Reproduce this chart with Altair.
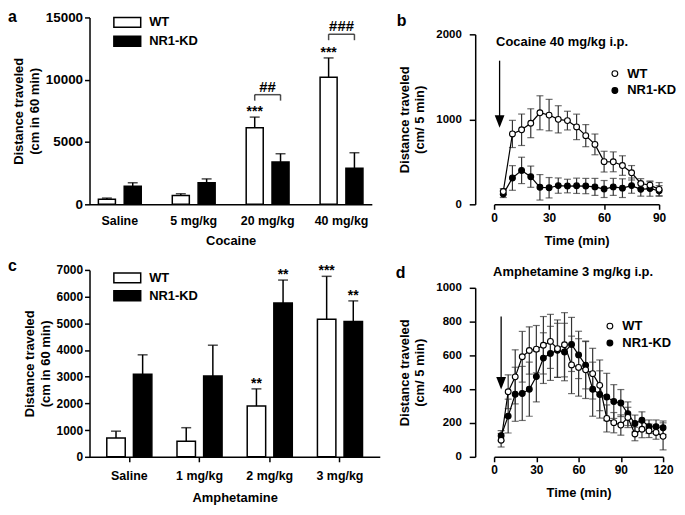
import altair as alt
import pandas as pd

FONT = "Liberation Sans"
GENOTYPES = ["WT", "NR1-KD"]
FILLS = ["white", "black"]

# ---------------- Panel a: cocaine dose response (cm in 60 min)
coc_doses = ["Saline", "5 mg/kg", "20 mg/kg", "40 mg/kg"]
coc_wt = [400, 700, 6150, 10200]
coc_wt_sem = [100, 150, 850, 1550]
coc_kd = [1450, 1730, 3400, 2900]
coc_kd_sem = [280, 310, 660, 1240]
coc_wt_sig = ["", "", "***", "***"]
coc_kd_sig = ["", "", "", ""]
coc_hash = ["", "", "##", "###"]
coc_hash_level = [None, None, 8800, 13650]

# ---------------- Panel c: amphetamine dose response (cm in 60 min)
amph_doses = ["Saline", "1 mg/kg", "2 mg/kg", "3 mg/kg"]
amph_wt = [700, 580, 1900, 5150]
amph_wt_sem = [260, 510, 645, 1610]
amph_kd = [3090, 3030, 5760, 5070]
amph_kd_sem = [730, 1150, 860, 770]
amph_wt_sig = ["", "", "**", "***"]
amph_kd_sig = ["", "", "**", "**"]

# ---------------- Panel b: cocaine 40 mg/kg time course (cm / 5 min)
coc_time = [5, 10, 15, 20, 25, 30, 35, 40, 45, 50, 55, 60, 65, 70, 75, 80, 85, 90]
coc_ts_wt = [150, 828, 877, 954, 1077, 1050, 1000, 985, 911, 808, 705, 502, 500, 456, 371, 245, 226, 176]
coc_ts_wt_sem = [35, 160, 185, 170, 200, 185, 160, 110, 150, 130, 122, 122, 117, 115, 85, 57, 40, 80]
coc_ts_kd = [120, 310, 399, 325, 200, 195, 220, 215, 218, 215, 205, 180, 205, 190, 220, 176, 185, 160]
coc_ts_kd_sem = [40, 145, 155, 125, 150, 120, 90, 80, 90, 90, 100, 100, 100, 110, 90, 80, 90, 60]
coc_arrow = [3, 1690, 975]  # time, arrow start, arrow head

# ---------------- Panel d: amphetamine 3 mg/kg time course (cm / 5 min)
amph_time = [5, 10, 15, 20, 25, 30, 35, 40, 45, 50, 55, 60, 65, 70, 75, 80, 85, 90,
             95, 100, 105, 110, 115, 120]
amph_ts_wt = [98, 385, 473, 592, 629, 637, 660, 683, 640, 663, 544, 529, 515, 492, 423, 227,
              202, 188, 233, 135, 163, 154, 144, 121]
amph_ts_wt_sem = [40, 100, 160, 150, 140, 140, 170, 160, 170, 190, 170, 170, 170, 150, 150, 80,
                  60, 60, 60, 40, 50, 40, 40, 80]
amph_ts_kd = [125, 241, 370, 375, 400, 475, 584, 612, 630, 620, 665, 603, 542, 400, 369, 354,
              327, 318, 255, 197, 216, 178, 178, 172]
amph_ts_kd_sem = [30, 100, 160, 160, 160, 150, 150, 160, 160, 170, 160, 140, 140, 160, 140, 140,
                  100, 80, 70, 50, 50, 40, 40, 40]
amph_arrow = [5, 830, 435]

ROW_H = 188
BAR_PATH = "M-1.5,-0.55H1.5V0.55H-1.5Z"
HEAD_PATH = "M-0.7,-0.9L0.7,-0.9L0,0.9Z"


def text_layer(txt, x, y, size, align="left"):
    return alt.Chart(pd.DataFrame({"t": [txt]})).mark_text(
        align=align, baseline="alphabetic", fontSize=size, fontWeight="bold",
        font=FONT, color="black"
    ).encode(x=alt.value(x), y=alt.value(y), text="t:N")


def bar_panel(doses, wt, wt_sem, kd, kd_sem, wt_sig, kd_sig, ymax, yvals, ytitle, xtitle,
              W, pI, pO, subPI, ylab_size, x_ticks, legend_xy, letter, letter_xy,
              hashes=None, hash_levels=None):
    rows = []
    for i, d in enumerate(doses):
        rows.append(dict(dose=d, genotype="WT", mean=wt[i], top=wt[i] + wt_sem[i], sig=wt_sig[i]))
        rows.append(dict(dose=d, genotype="NR1-KD", mean=kd[i], top=kd[i] + kd_sem[i], sig=kd_sig[i]))
    df = pd.DataFrame(rows)

    step = W / (len(doses) - pI + 2 * pO)
    band = step * (1 - pI)
    substep = band / (2 - subPI)

    xaxis = alt.Axis(title=xtitle, labelAngle=0, ticks=x_ticks, tickSize=5,
                     labelPadding=(10 if not x_ticks else 8), titlePadding=(8 if not x_ticks else 9),
                     labelFontSize=12.5)
    x = alt.X("dose:N", sort=doses, scale=alt.Scale(domain=doses, paddingInner=pI, paddingOuter=pO),
              axis=xaxis)
    xo = alt.XOffset("genotype:N", sort=GENOTYPES,
                     scale=alt.Scale(domain=GENOTYPES, paddingInner=subPI, paddingOuter=0))
    yaxis = alt.Axis(values=yvals, title=ytitle, format="d", tickSize=5, labelPadding=2,
                     titlePadding=4, labelFontSize=ylab_size, titleLineHeight=16)
    yscale = alt.Scale(domain=[0, ymax], nice=False)

    def Y(field):
        return alt.Y(field, scale=yscale, axis=yaxis, title=ytitle)

    base = alt.Chart(df)
    bars = base.mark_bar(stroke="black", strokeWidth=1.5).encode(
        x=x, xOffset=xo, y=Y("mean:Q"),
        fill=alt.Fill("genotype:N", sort=GENOTYPES,
                      scale=alt.Scale(domain=GENOTYPES, range=FILLS),
                      legend=alt.Legend(orient="none", legendX=legend_xy[0], legendY=legend_xy[1],
                                        title=None, symbolType=BAR_PATH, symbolSize=324,
                                        symbolStrokeColor="black", symbolStrokeWidth=1.5,
                                        labelOffset=12, rowPadding=legend_xy[2],
                                        labelFontSize=13, labelFontWeight="bold", labelFont=FONT)))
    err = base.mark_rule(color="black", strokeWidth=1.5).encode(
        x=x, xOffset=xo, y=Y("mean:Q"), y2="top:Q")
    cap = base.mark_tick(color="black", thickness=1.5, size=10, orient="horizontal").encode(
        x=x, xOffset=xo, y=Y("top:Q"))
    stars = base.mark_text(fontSize=14, fontWeight="bold", font=FONT, baseline="alphabetic",
                           dy=-1, color="black").encode(
        x=x, xOffset=xo, y=Y("top:Q"), text="sig:N")
    layers = [bars, err, cap, stars]

    if hashes is not None:
        brows, lrows = [], []
        for i, d in enumerate(doses):
            if hash_levels[i] is not None:
                brows.append(dict(dose=d, level=hash_levels[i], lab=hashes[i]))
                for g in GENOTYPES:
                    lrows.append(dict(dose=d, genotype=g, level=hash_levels[i]))
        bdf = pd.DataFrame(brows)
        ldf = pd.DataFrame(lrows)
        hbar = alt.Chart(bdf).mark_tick(color="black", thickness=1.5, size=substep,
                                        orient="horizontal").encode(x=x, y=Y("level:Q"))
        legs = alt.Chart(ldf).mark_tick(color="black", thickness=1.5, size=6, orient="vertical",
                                        yOffset=3).encode(x=x, xOffset=xo, y=Y("level:Q"))
        htxt = alt.Chart(bdf).mark_text(fontSize=15, fontWeight="bold", font=FONT,
                                        baseline="alphabetic", dy=-3, color="black").encode(
            x=x, y=Y("level:Q"), text="lab:N")
        layers += [hbar, legs, htxt]

    layers.append(text_layer(letter, letter_xy[0], letter_xy[1], 16))
    return alt.layer(*layers).properties(width=W, height=ROW_H)


def time_panel(times, wt, wt_sem, kd, kd_sem, xmax, xvals, ymax, yvals, ytop, ytitle, W,
               legend_xy, arrow, note, note_xy, letter, letter_xy):
    rows = []
    for i, t in enumerate(times):
        rows.append(dict(time=t, genotype="NR1-KD", mean=kd[i], lo=kd[i] - kd_sem[i], hi=kd[i] + kd_sem[i]))
    for i, t in enumerate(times):
        rows.append(dict(time=t, genotype="WT", mean=wt[i], lo=wt[i] - wt_sem[i], hi=wt[i] + wt_sem[i]))
    df = pd.DataFrame(rows)

    xaxis = alt.Axis(values=xvals, title="Time (min)", format="d", tickSize=5, labelPadding=3,
                     titlePadding=11, labelFlush=False, labelFontSize=12)
    yaxis = alt.Axis(values=yvals, title=ytitle, format="d", tickSize=6, labelPadding=8,
                     titlePadding=9, offset=19, labelFlush=False, labelFontSize=11.5,
                     titleLineHeight=16)
    xscale = alt.Scale(domain=[0, xmax], nice=False)
    yscale = alt.Scale(domain=[0, ymax], range=[ROW_H, ytop], nice=False)

    def X(field):
        return alt.X(field, scale=xscale, axis=xaxis, title="Time (min)")

    def Y(field):
        return alt.Y(field, scale=yscale, axis=yaxis, title=ytitle)

    base = alt.Chart(df)
    lines = base.mark_line(color="black", strokeWidth=1.2).encode(
        x=X("time:Q"), y=Y("mean:Q"), detail="genotype:N")
    ebar = base.mark_rule(color="#333333", strokeWidth=1.2).encode(
        x=X("time:Q"), y=Y("lo:Q"), y2="hi:Q")
    cap_lo = base.mark_tick(color="#333333", thickness=1.2, size=7, orient="horizontal").encode(
        x=X("time:Q"), y=Y("lo:Q"))
    cap_hi = base.mark_tick(color="#333333", thickness=1.2, size=7, orient="horizontal").encode(
        x=X("time:Q"), y=Y("hi:Q"))
    pts = base.mark_point(filled=True, size=34, stroke="black", strokeWidth=1.1, opacity=1).encode(
        x=X("time:Q"), y=Y("mean:Q"),
        fill=alt.Fill("genotype:N", scale=alt.Scale(domain=GENOTYPES, range=FILLS),
                      legend=alt.Legend(orient="none", legendX=legend_xy[0], legendY=legend_xy[1],
                                        title=None, symbolType="circle", symbolSize=34,
                                        symbolStrokeColor="black", symbolStrokeWidth=1.1,
                                        labelOffset=6, rowPadding=3,
                                        labelFontSize=13, labelFontWeight="bold", labelFont=FONT)))
    adf = pd.DataFrame({"time": [arrow[0]], "start": [arrow[1]], "head": [arrow[2]]})
    ashaft = alt.Chart(adf).mark_rule(color="black", strokeWidth=1.3).encode(
        x=X("time:Q"), y=Y("start:Q"), y2="head:Q")
    ahead = alt.Chart(adf).mark_point(shape=HEAD_PATH, filled=True, color="black", size=196,
                                      opacity=1).encode(x=X("time:Q"), y=Y("head:Q"))
    layers = [ebar, cap_lo, cap_hi, lines, pts, ashaft, ahead,
              text_layer(note, note_xy[0], note_xy[1], 13),
              text_layer(letter, letter_xy[0], letter_xy[1], 16)]
    return alt.layer(*layers).properties(width=W, height=ROW_H)


panel_a = bar_panel(coc_doses, coc_wt, coc_wt_sem, coc_kd, coc_kd_sem, coc_wt_sig, coc_kd_sig,
                    15000, [0, 5000, 10000, 15000], ["Distance traveled", "(cm in 60 min)"],
                    "Cocaine", 284, 0.42, 0.12, 0.34, 13.5, False, (28, -5, 1), "a", (-82, 5),
                    hashes=coc_hash, hash_levels=coc_hash_level)
panel_c = bar_panel(amph_doses, amph_wt, amph_wt_sem, amph_kd, amph_kd_sem, amph_wt_sig,
                    amph_kd_sig, 7000, [0, 1000, 2000, 3000, 4000, 5000, 6000, 7000],
                    ["Distance traveled", "(cm in 60 min)"], "Amphetamine", 292, 0.358, 0.246,
                    0.307, 12, True, (28, -2, 0), "c", (-82, 1))
panel_b = time_panel(coc_time, coc_ts_wt, coc_ts_wt_sem, coc_ts_kd, coc_ts_kd_sem, 90,
                     [0, 30, 60, 90], 2000, [0, 1000, 2000], 17,
                     ["Distance traveled", "(cm/ 5 min)"], 166, (115, 50), coc_arrow,
                     "Cocaine 40 mg/kg i.p.", (2, 29), "b", (-98, 9))
panel_d = time_panel(amph_time, amph_ts_wt, amph_ts_wt_sem, amph_ts_kd, amph_ts_kd_sem, 120,
                     [0, 30, 60, 90, 120], 1000, [0, 200, 400, 600, 800, 1000], 18,
                     ["Distance traveled", "(cm/ 5 min)"], 170, (110, 50), amph_arrow,
                     "Amphetamine 3 mg/kg i.p.", (-1, 6), "d", (-99, 8))

chart = alt.concat(panel_a, panel_b, panel_c, panel_d, columns=2, align="each",
                   spacing={"row": 10, "column": 16}).resolve_scale(
    fill="independent", xOffset="independent").resolve_legend(fill="independent").properties(
    padding=0
).configure(font=FONT).configure_view(stroke=None).configure_axis(
    labelFont=FONT, titleFont=FONT, labelFontWeight="bold", titleFontWeight="bold",
    titleFontSize=13, labelColor="black", titleColor="black", domainColor="black",
    tickColor="black", domainWidth=1.5, tickWidth=1.5, grid=False, labelOverlap=False
)

chart.save("out.html", embed_options={"renderer": "svg", "actions": False})
